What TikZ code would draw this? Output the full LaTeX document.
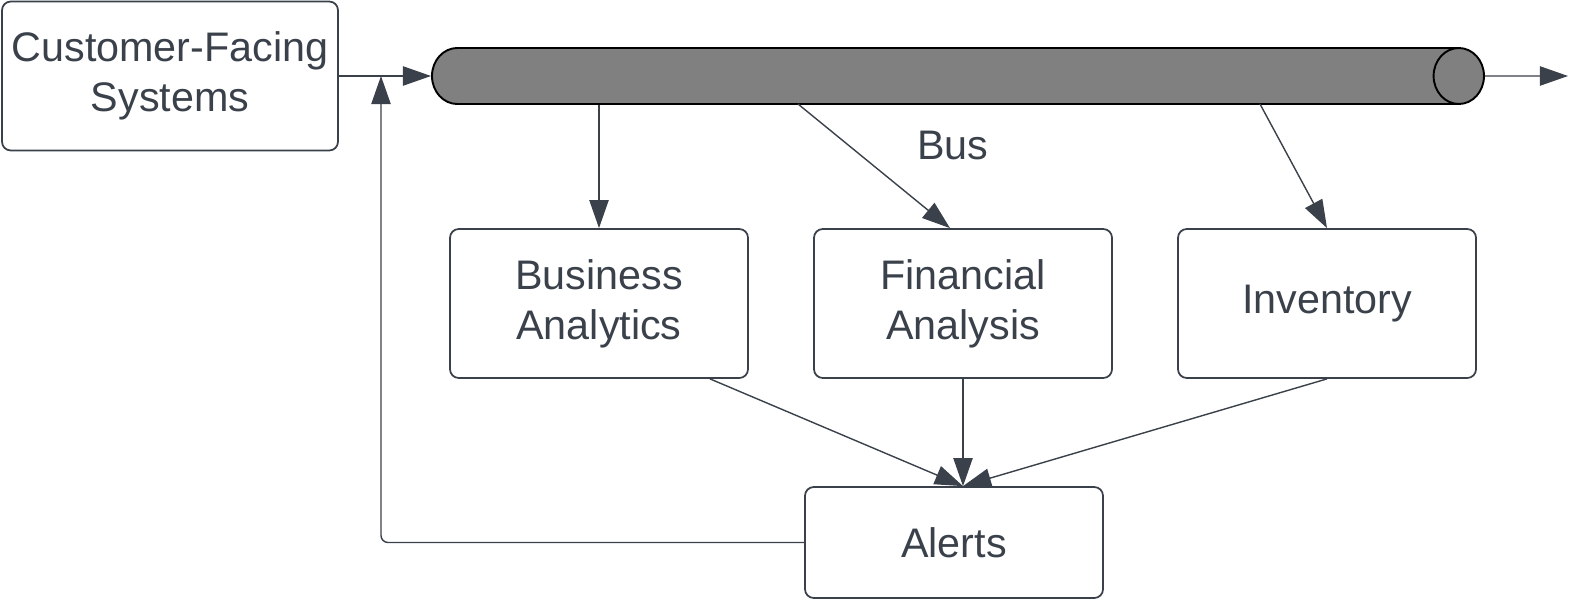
\documentclass[tikz,border=0pt]{standalone}
\usepackage{fontspec}
\setmainfont{Liberation Sans}
\usetikzlibrary{arrows.meta,positioning,calc,shapes.geometric}
\definecolor{ink}{HTML}{3A414A}
\tikzset{arr/.style={draw=ink, line width=0.8pt, -{Triangle[length=16pt,width=11pt]}}}

\begin{document}
\begin{tikzpicture}[x=0.02cm, y=-0.02cm,
    box/.style={draw=ink, line width=1pt, rounded corners=5pt, text=ink, align=center,
      minimum width=298*0.02cm, minimum height=149*0.02cm, inner sep=0pt,
      font=\fontsize{23.5}{28.5}\selectfont},
    pipe/.style={cylinder, draw=black, line width=1.1pt, cylinder uses custom fill,
      cylinder body fill=gray, cylinder end fill=gray, aspect=1.8, inner sep=0.28cm,
      minimum width=56*0.02cm, minimum height=1052*0.02cm}]
    \useasboundingbox (0,0) rectangle (1575,602);

    \node[box, minimum width=336*0.02cm] (cfs) at (170,76) {Customer-Facing\\Systems};
    \node[pipe] (bus) at (934,76) {};
    \node[text=ink, font=\fontsize{23.5}{28.5}\selectfont] (buslbl) at (953,145) {Bus};

    \node[box] (ba) at (599,303.5) {Business\\Analytics};
    \node[box] (fa) at (963,303.5) {Financial\\Analysis};
    \node[box] (inv) at (1327,303.5) {Inventory};
    \node[box, minimum height=111*0.02cm] (al) at (954,542.5) {Alerts};

    % taps on the bus
    \coordinate (tapfa) at (798,104);
    \coordinate (tapinv) at (1260,104);
    \coordinate (out) at (1568,76);
    \coordinate (loop) at (381,542.5);
    \coordinate (hit) at (fa.south |- al.north);

    \draw[arr] (cfs.east) -- (bus.west);
    \draw[arr] (bus.east) -- (out);
    \draw[arr] (bus.south -| ba.north) -- (ba.north);
    \draw[arr] (tapfa) -- ([xshift=-13*0.02cm]fa.north);
    \draw[arr] (tapinv) -- (inv.north);

    \draw[arr] ([xshift=111*0.02cm]ba.south) -- (hit);
    \draw[arr] (fa.south) -- (hit);
    \draw[arr] (inv.south) -- (hit);

    \draw[arr, rounded corners=4pt] (al.west) -- (loop) -- (loop |- cfs.east);
\end{tikzpicture}
\end{document}
